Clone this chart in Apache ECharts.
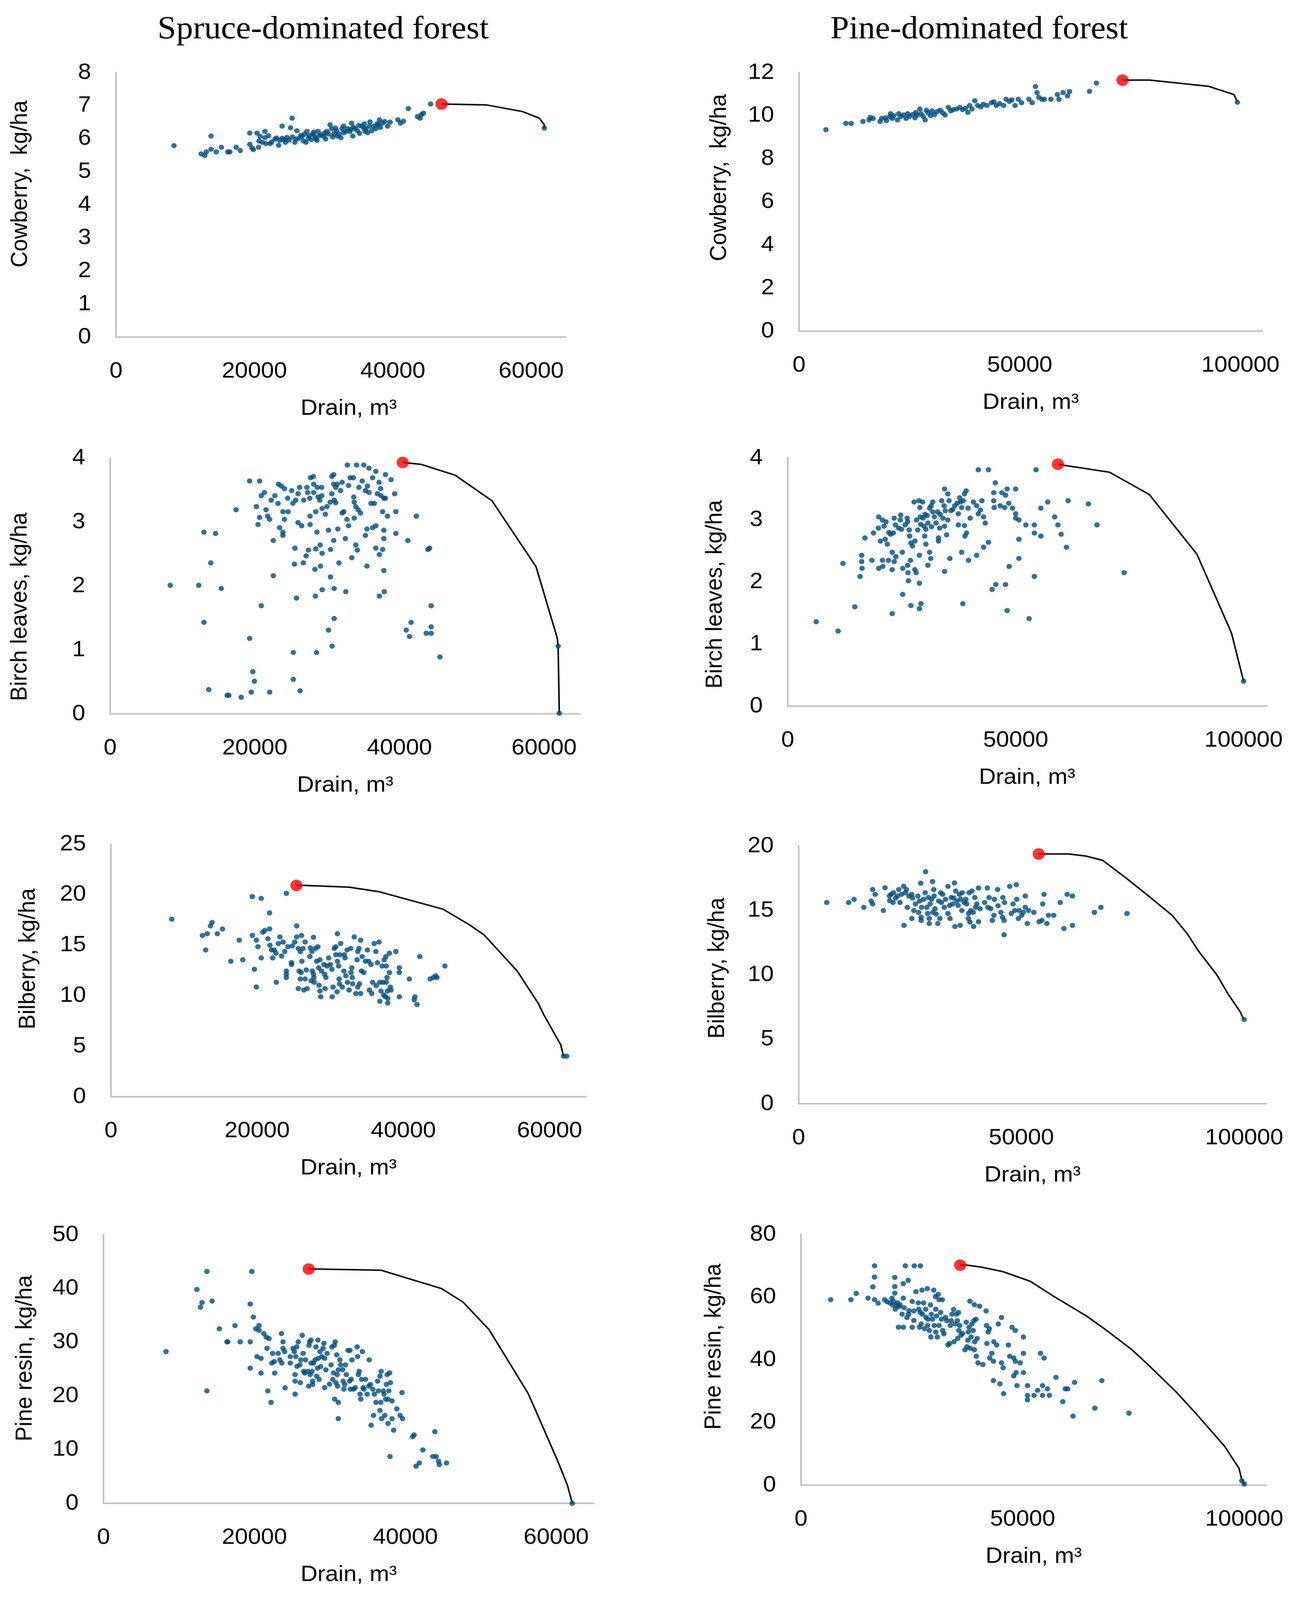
<!DOCTYPE html>
<html>
<head>
<meta charset="utf-8">
<title>Drain frontiers</title>
<script src="https://cdn.jsdelivr.net/npm/echarts@6/dist/echarts.min.js"></script>
<style>
    html, body { margin: 0; padding: 0; background: #fff; overflow: hidden; }
    #main { width: 3327px; height: 4301px; transform-origin: 0 0; }
</style>
</head>
<body>
<div id="main"></div>
<script type="text/javascript">
// values: [drain m3, kg/ha]
var spruceCowberry = [[8370,5.79],[12290,5.54],[12810,5.49],[13040,5.60],[13730,6.08],[13730,5.68],[14480,5.60],[15230,5.74],[16160,5.60],[16450,5.60],[17370,5.74],[17950,5.64],[19330,6.17],[19330,5.83],[19620,5.72],[19850,5.67],[20370,6.17],[20600,5.74],[20830,6.07],[20660,5.93],[21120,5.89],[21520,6.22],[21520,6.03],[21640,5.85],[22040,6.09],[22270,5.85],[22500,5.90],[22970,5.99],[23490,5.80],[23660,5.95],[24000,6.38],[24000,6.01],[24470,5.89],[24700,6.04],[25220,6.33],[25450,6.62],[25500,6.05],[25850,5.89],[26140,6.24],[26430,6.01],[26890,6.07],[27240,6.14],[27470,5.89],[27580,6.22],[27930,6.09],[28220,5.97],[28390,6.14],[28740,6.07],[29030,5.95],[29200,6.22],[29430,6.09],[30010,6.07],[30290,5.99],[30470,6.22],[30700,6.14],[30930,6.42],[31160,6.30],[31510,6.15],[31860,6.24],[32200,6.14],[32490,6.03],[32660,6.30],[32890,6.38],[33240,6.22],[33470,6.30],[33810,6.22],[34040,6.47],[34220,6.08],[34510,6.30],[35080,6.40],[35200,6.16],[35550,6.38],[35890,6.45],[36120,6.30],[36350,6.18],[36700,6.51],[36930,6.24],[37220,6.38],[37510,6.30],[37740,6.45],[38080,6.57],[38200,6.34],[38830,6.52],[39240,6.38],[40740,6.57],[41090,6.47],[41550,6.53],[42240,6.91],[43570,6.67],[43970,6.62],[44150,6.73],[44430,6.77],[45470,7.05],[23200,6.02],[24300,5.97],[25000,5.96],[26000,5.99],[26700,6.10],[27800,6.02],[28900,6.00],[29700,6.12],[30200,6.18],[31300,6.05],[32000,6.08],[32900,6.18],[33900,6.28],[34900,6.24],[35800,6.32],[36600,6.38],[37900,6.42],[38500,6.47],[39600,6.50],[27100,5.93],[28600,6.20],[31700,6.32],[34300,6.35],[36000,6.22],[61900,6.32]];
var spruceCowberryFront = [[47030,7.05],[53550,7.02],[58740,6.82],[61170,6.62],[61860,6.43],[61900,6.32]];
var spruceCowberryOpt = [[47030,7.05]];

var pineCowberry = [[6080,9.35],[10600,9.64],[11800,9.64],[14470,9.73],[15850,9.80],[16130,9.92],[16770,9.87],[18340,9.73],[18710,9.87],[19540,9.90],[19820,9.77],[20550,9.96],[20740,10.09],[21110,9.87],[21470,10.00],[22300,9.80],[22580,10.09],[23040,9.96],[23690,10.03],[24240,9.87],[24610,10.09],[24980,9.96],[25710,10.05],[26270,9.90],[26450,10.15],[26820,10.03],[27370,10.31],[27650,10.09],[28110,9.96],[28570,9.80],[28850,10.25],[29220,10.13],[29770,10.00],[30140,10.22],[30690,10.05],[31240,10.18],[31980,10.25],[32530,10.13],[33090,10.03],[33820,10.38],[34380,10.22],[34930,10.28],[35670,10.31],[36410,10.38],[37050,10.28],[37700,10.34],[38250,10.15],[38620,10.47],[39170,10.31],[39820,10.69],[40460,10.47],[41200,10.41],[41750,10.53],[42580,10.47],[43590,10.60],[44150,10.64],[44700,10.47],[45440,10.56],[46360,10.47],[46910,10.76],[47650,10.66],[48200,10.73],[48940,10.47],[49680,10.76],[50410,10.60],[52070,10.76],[52810,10.60],[53550,11.35],[53920,11.07],[54290,10.85],[55020,10.76],[55580,10.76],[57050,10.76],[58530,10.98],[58890,10.76],[59820,11.07],[60830,10.92],[61290,11.12],[65810,11.13],[67370,11.51],[99300,10.62]];
var pineCowberryFront = [[73270,11.65],[79450,11.65],[92810,11.36],[98530,10.98],[99300,10.65]];
var pineCowberryOpt = [[73270,11.65]];

var spruceBirch = [[8310,2.01],[12240,2.01],[12960,2.84],[12960,1.43],[13630,0.38],[13910,2.36],[14570,2.82],[15350,1.96],[16180,0.29],[16400,0.29],[17400,3.19],[18120,0.26],[19280,3.64],[19280,1.18],[19500,0.34],[19720,0.66],[19940,0.51],[20220,3.24],[20440,2.96],[20660,3.64],[20660,3.07],[20890,3.41],[20890,1.69],[21330,3.46],[21550,3.19],[21770,3.09],[22050,3.04],[22050,0.34],[22270,3.34],[22550,2.71],[22550,2.16],[22770,3.41],[23210,3.29],[23270,3.59],[23430,2.91],[23660,3.56],[23880,3.16],[23880,2.79],[23880,2.84],[24100,3.52],[24100,3.04],[24540,3.37],[24600,3.16],[25100,3.49],[25260,3.29],[25320,0.96],[25320,0.54],[25480,2.34],[25540,2.59],[25650,3.34],[25760,1.81],[25980,3.44],[25980,2.99],[26200,3.54],[26260,0.36],[26480,2.94],[26700,2.36],[26760,3.34],[27090,2.47],[27200,3.54],[27310,3.46],[27420,2.56],[27590,3.37],[27640,3.09],[27640,2.96],[27700,3.69],[28090,3.71],[28140,3.46],[28140,3.59],[28310,2.26],[28420,2.58],[28370,1.84],[28420,3.16],[28530,0.96],[28590,2.84],[28640,3.54],[28750,3.39],[28980,3.34],[29030,2.64],[29090,2.31],[29250,3.54],[29250,3.41],[29310,2.51],[29310,1.94],[29310,3.21],[29750,3.12],[29970,3.24],[30190,2.87],[30190,1.31],[30420,3.31],[30470,2.57],[30470,2.14],[30640,3.71],[30640,3.44],[30690,1.06],[30910,3.74],[30910,3.59],[30910,2.71],[30970,1.96],[30970,1.49],[30970,3.34],[31190,3.30],[31190,3.54],[31410,3.59],[31470,2.89],[31630,2.36],[31860,3.49],[32080,3.62],[32080,3.14],[32300,3.16],[32520,2.74],[32580,1.91],[32740,3.04],[32800,3.89],[32960,2.94],[32960,3.57],[33190,3.69],[33410,2.44],[33630,3.69],[33680,3.39],[33740,3.06],[33740,3.31],[33960,2.64],[33960,3.24],[34070,3.89],[34180,2.56],[34290,3.19],[34400,3.54],[34630,3.14],[34850,3.64],[35070,3.89],[35290,2.79],[35290,3.49],[35510,2.31],[35510,2.89],[35570,3.56],[35790,3.84],[35790,3.46],[36070,3.29],[36290,2.91],[36290,3.69],[36510,3.29],[36730,3.79],[36730,2.59],[36730,2.94],[36950,3.44],[37180,3.62],[37230,1.84],[37230,2.49],[37400,3.52],[37450,3.41],[37670,3.16],[37670,2.57],[37840,3.37],[37840,2.87],[37840,2.74],[37840,2.24],[37890,1.91],[38060,3.74],[38060,3.37],[38340,3.09],[38840,3.66],[39340,3.44],[39500,3.16],[39500,2.82],[40940,1.31],[41160,2.71],[41390,1.21],[41610,1.43],[42330,3.09],[43710,1.26],[43930,2.57],[44160,2.59],[44380,1.69],[44380,1.36],[44380,1.26],[45600,0.89],[61940,1.06],[62100,0.01]];
var spruceBirchFront = [[40440,3.93],[42990,3.90],[47700,3.73],[52800,3.33],[58890,2.30],[61830,1.18],[61940,1.06],[62100,0.01]];
var spruceBirchOpt = [[40440,3.93]];

var pineBirch = [[6240,1.36],[11050,1.21],[12120,2.30],[14710,1.60],[15860,2.09],[16220,2.43],[16220,2.33],[16310,2.22],[16930,2.71],[18450,2.35],[18810,2.79],[19880,2.87],[19960,3.05],[19960,2.22],[20320,2.66],[20770,3.00],[20770,2.35],[20860,2.25],[21120,2.90],[21390,2.69],[21570,2.97],[21840,2.61],[22100,2.35],[22190,2.80],[22550,2.77],[22910,2.48],[22910,2.20],[22910,1.49],[23170,2.79],[23350,3.03],[23350,2.33],[23620,2.92],[23710,2.41],[24330,2.87],[24690,3.00],[24780,3.08],[24960,2.85],[25130,2.48],[25220,2.22],[25220,1.80],[25760,2.92],[26200,3.03],[26290,2.97],[26290,2.27],[26380,2.15],[26470,2.02],[26650,2.84],[26740,2.74],[26920,2.35],[27010,2.63],[27010,1.62],[27360,2.58],[27720,3.29],[27900,2.66],[27900,2.20],[28160,2.15],[28250,3.00],[28520,2.84],[28790,3.31],[28880,2.43],[28880,1.98],[28880,1.57],[28970,3.20],[29060,3.05],[29140,2.93],[29230,1.65],[29590,3.29],[29680,3.03],[29860,2.90],[30040,2.74],[30120,3.09],[30300,2.85],[30300,2.61],[30570,3.07],[30750,2.27],[30750,2.95],[31110,2.48],[31110,3.19],[31370,2.38],[31460,3.23],[31550,2.89],[31820,3.13],[31820,3.29],[32180,3.05],[32530,2.95],[32890,3.13],[33070,2.71],[33070,2.66],[33330,2.87],[33420,3.09],[33780,3.31],[34050,3.03],[34310,3.23],[34400,2.90],[34400,3.50],[34400,2.17],[34580,3.15],[34850,2.76],[35120,3.42],[35120,3.00],[35380,3.31],[35560,2.38],[35830,3.15],[36190,3.17],[36630,3.23],[37170,3.27],[37430,3.10],[37430,2.92],[37700,3.36],[37880,3.29],[38150,2.48],[38150,3.20],[38410,1.65],[38500,3.31],[38770,3.42],[38770,2.91],[38860,2.74],[39130,3.47],[39220,2.79],[39570,3.19],[39660,2.35],[40020,3.03],[40730,3.29],[41440,3.23],[41440,2.43],[41800,3.10],[41800,3.81],[42250,3.16],[42600,3.31],[42960,3.05],[42960,2.56],[43320,2.95],[44030,2.64],[44030,3.81],[44830,1.88],[45190,3.44],[45190,3.31],[45280,3.20],[45540,3.60],[45630,1.96],[46610,3.23],[46970,3.44],[47590,3.20],[47770,3.40],[47770,1.96],[48130,1.54],[48130,3.50],[48480,3.27],[48570,2.25],[49290,3.19],[50000,3.10],[50000,3.03],[50000,3.50],[50710,3.00],[50710,2.69],[50710,2.38],[52230,2.92],[52940,1.41],[54100,2.92],[54100,2.79],[54100,2.09],[54460,3.81],[55530,3.19],[55530,2.74],[57040,3.29],[58560,3.05],[59270,2.92],[59980,2.77],[61140,2.56],[61500,3.31],[65950,3.26],[67830,2.92],[73800,2.15],[100000,0.40]];
var pineBirchFront = [[59270,3.90],[60780,3.88],[70590,3.77],[79320,3.41],[89750,2.45],[97330,1.18],[100000,0.40]];
var pineBirchOpt = [[59270,3.90]];

var spruceBilberry = [[8310,17.57],[12510,15.96],[12950,14.52],[13170,16.13],[13610,16.90],[13830,17.24],[14540,16.13],[15250,16.60],[16390,13.40],[17540,15.49],[18030,13.55],[19340,19.80],[19340,15.96],[19620,12.61],[19890,15.49],[19890,10.85],[20110,14.84],[20550,19.62],[20550,13.73],[20770,16.28],[21040,16.45],[21480,15.63],[21690,18.19],[21690,16.60],[21750,14.99],[21970,14.52],[22130,13.73],[22350,14.52],[22570,14.20],[22620,11.32],[22900,15.16],[23110,15.81],[23330,13.92],[23550,15.31],[23770,14.37],[23990,20.12],[23990,12.44],[23990,12.12],[23990,11.79],[24210,14.84],[24700,13.08],[24700,13.26],[24810,14.92],[25140,15.31],[25410,16.90],[25410,15.81],[25630,14.67],[25630,10.70],[25740,12.44],[25900,14.35],[25900,11.65],[26010,12.29],[26070,15.96],[26120,13.40],[26280,14.67],[26390,10.56],[26560,15.31],[26560,11.65],[26720,12.54],[26830,10.70],[27210,13.87],[27270,14.74],[27380,11.47],[27490,14.37],[27540,12.44],[27700,15.78],[27700,12.12],[27760,11.79],[27810,11.32],[27980,14.67],[28140,13.40],[28310,14.84],[28420,12.76],[28470,11.03],[28580,13.55],[28580,10.46],[28690,9.89],[28800,12.44],[29130,13.08],[29230,12.12],[29290,10.70],[29400,11.79],[29560,12.93],[29780,13.73],[30000,13.08],[30220,12.61],[30270,9.89],[30380,10.85],[30550,14.67],[30760,14.84],[30760,14.05],[30930,10.38],[30980,13.40],[30980,16.13],[31150,12.93],[31200,11.65],[31260,11.17],[31310,14.05],[31420,15.16],[31640,10.85],[31860,12.44],[31910,14.05],[32020,13.73],[32130,11.97],[32300,14.52],[32350,11.32],[32570,10.56],[32790,14.67],[32840,12.29],[32950,12.76],[33010,11.79],[33060,11.17],[33280,15.81],[33500,10.21],[33660,13.55],[33770,10.85],[33770,14.37],[33930,14.67],[33990,11.17],[34150,15.49],[34150,10.21],[34260,12.44],[34370,13.87],[34590,12.29],[34810,13.40],[35080,14.52],[35250,13.40],[35360,10.56],[35570,13.08],[35680,10.21],[35790,11.32],[36010,15.16],[36230,14.37],[36280,11.00],[36450,13.26],[36670,15.31],[36780,11.32],[36780,9.44],[36940,10.46],[37100,12.93],[37210,11.32],[37320,10.06],[37380,13.55],[37540,9.89],[37600,13.87],[37650,12.93],[37650,11.32],[37760,11.79],[37810,10.46],[37870,9.27],[37870,9.74],[38090,14.20],[38090,12.29],[38200,10.85],[38310,10.56],[38960,14.37],[39450,12.76],[39450,12.29],[39450,9.89],[40820,11.65],[41480,9.59],[41580,9.89],[41860,9.12],[42240,13.87],[43660,11.65],[44100,11.79],[44430,11.97],[44590,11.79],[45680,12.93],[61910,4.01],[62350,4.01]];
var spruceBilberryFront = [[25360,20.91],[26390,20.91],[32570,20.74],[36670,20.29],[40050,19.62],[45410,18.56],[48910,17.07],[51090,15.98],[53060,14.42],[55570,12.44],[58470,9.22],[59180,8.15],[61530,5.13],[61910,4.01]];
var spruceBilberryOpt = [[25360,20.91]];

var pineBilberry = [[6300,15.61],[11230,15.61],[12420,15.86],[14610,15.24],[16260,15.73],[16620,16.62],[16620,15.50],[17170,16.25],[19010,14.99],[19380,16.76],[20370,16.12],[20460,15.75],[20730,16.25],[21190,15.61],[21280,16.37],[21740,15.96],[22190,16.12],[22470,16.62],[22740,15.61],[23110,16.25],[23560,16.87],[23650,13.84],[23930,16.37],[24200,16.62],[24380,15.24],[24750,16.12],[25390,16.25],[25390,14.37],[25570,15.96],[25840,14.99],[26210,15.50],[26760,16.12],[26940,14.85],[27120,15.73],[27400,17.11],[27490,14.47],[27490,14.23],[27580,15.24],[28040,15.86],[28400,16.37],[28490,18.00],[28770,15.24],[28950,14.76],[29130,16.00],[29310,14.37],[29310,13.98],[29500,15.50],[29860,15.86],[30050,17.24],[30140,14.85],[30320,16.62],[30410,16.12],[30590,15.13],[30870,14.72],[31230,13.98],[31420,15.73],[31690,14.37],[31870,16.37],[32050,15.61],[32330,16.25],[32690,15.24],[32970,15.86],[33520,16.87],[33520,14.76],[33880,15.38],[33970,14.37],[34250,16.00],[34610,15.50],[34790,15.96],[34980,17.13],[35070,13.75],[35250,16.50],[35520,15.73],[35800,15.38],[36070,16.25],[36260,13.84],[36350,15.86],[36620,14.99],[36710,16.37],[37170,15.61],[37530,15.86],[37720,15.50],[38080,14.37],[38170,14.76],[38260,16.37],[38450,14.10],[38630,14.99],[38900,16.50],[39180,14.85],[39270,13.75],[39540,16.00],[39730,15.24],[40000,15.50],[40370,16.74],[40370,14.12],[40730,15.13],[41740,15.61],[42370,16.74],[42470,15.24],[42740,16.00],[43110,15.13],[43470,14.23],[43840,14.62],[43930,15.86],[44660,16.62],[44750,15.36],[45390,14.85],[45750,14.47],[45840,16.00],[46120,14.23],[46120,13.11],[46210,15.61],[47370,16.87],[47750,14.76],[48130,15.50],[48490,14.99],[48860,16.99],[48950,15.86],[49320,14.37],[49500,14.99],[50050,14.62],[50410,14.85],[50870,16.12],[50870,15.24],[51320,13.98],[51600,14.99],[52790,14.85],[53970,14.12],[54610,14.23],[54790,15.50],[55070,16.25],[55710,13.98],[56070,14.62],[57260,14.62],[58720,15.61],[59540,13.59],[60270,16.25],[61460,16.12],[61460,13.84],[66390,14.85],[67850,15.24],[73700,14.76],[100000,6.54]];
var pineBilberryFront = [[53880,19.38],[55710,19.38],[60550,19.38],[64380,19.22],[68220,18.89],[73060,17.63],[78540,16.12],[83840,14.62],[87210,13.20],[89770,11.84],[93880,10.00],[96350,8.54],[99090,7.15],[99820,6.60],[100000,6.54]];
var pineBilberryOpt = [[53880,19.38]];

var spruceResin = [[8280,28.24],[12370,39.80],[12850,36.49],[13060,37.37],[13700,43.15],[13700,20.92],[14390,37.65],[15350,32.48],[16360,30.06],[16460,30.06],[17420,33.08],[18110,30.06],[19440,37.09],[19440,30.06],[19440,25.16],[19650,43.15],[19860,34.67],[20180,32.48],[20610,33.08],[20610,32.20],[20340,27.31],[20870,26.98],[20870,24.23],[21240,31.59],[21560,30.94],[21670,28.84],[21770,20.92],[21930,30.66],[22200,18.78],[22300,26.10],[22410,27.91],[22620,26.38],[22680,24.23],[23150,27.91],[23370,26.70],[23580,31.59],[23630,26.10],[23790,30.06],[23790,28.84],[24000,28.24],[24060,21.48],[24750,27.31],[24750,26.10],[25120,28.84],[25280,28.24],[25390,23.95],[25390,22.74],[25390,20.32],[25490,27.31],[25600,29.12],[25650,25.49],[25810,30.06],[26020,25.77],[26080,22.46],[26130,26.70],[26340,31.27],[26450,27.91],[26550,24.56],[26660,24.23],[26770,26.70],[27080,24.56],[27190,21.81],[27240,29.40],[27300,30.06],[27400,23.95],[27510,30.38],[27510,26.10],[27620,24.56],[27720,22.74],[27720,22.13],[27830,26.10],[28040,26.70],[28150,29.12],[28250,23.67],[28360,25.16],[28410,30.38],[28470,26.98],[28570,23.07],[28680,28.24],[28780,25.44],[28940,27.31],[29100,28.84],[29210,29.78],[29310,26.98],[29310,21.53],[29470,24.84],[29630,27.91],[29950,22.18],[30160,25.77],[30270,29.12],[30380,23.07],[30480,24.28],[30590,29.40],[30640,19.38],[30700,30.06],[30800,22.46],[30910,27.63],[30960,23.95],[31010,21.81],[31120,24.84],[31120,18.78],[31120,15.75],[31330,26.70],[31440,25.77],[31700,24.88],[31760,22.74],[31860,21.25],[31970,22.13],[32080,25.77],[32180,23.95],[32400,28.47],[32610,22.74],[32660,28.47],[32710,21.25],[32820,23.07],[32930,26.70],[33140,21.25],[33350,21.53],[33620,29.12],[33670,27.31],[33780,23.95],[33880,24.56],[33990,20.32],[34090,19.38],[34200,23.07],[34310,28.24],[34410,21.53],[34520,21.25],[34730,23.07],[34940,20.32],[35160,21.81],[35210,26.70],[35370,22.13],[35470,14.54],[35690,21.25],[35790,16.36],[35900,20.32],[36110,18.78],[36330,22.74],[36430,20.92],[36640,17.29],[36640,23.67],[36750,18.78],[36800,24.56],[36860,15.75],[37070,20.92],[37170,20.32],[37280,16.36],[37390,19.38],[37490,22.13],[37600,23.95],[37710,14.86],[37710,19.38],[37810,20.92],[37920,24.28],[37970,8.71],[38020,22.46],[38240,15.75],[38240,19.06],[38450,13.61],[38870,17.57],[39300,16.36],[39560,20.60],[39620,15.75],[40970,12.40],[41160,12.72],[41420,6.90],[41850,7.50],[42330,9.93],[43650,8.71],[43920,13.33],[44080,8.71],[44400,7.83],[44500,7.22],[45460,7.50],[62130,0]];
var spruceResinFront = [[27190,43.62],[28150,43.62],[36800,43.38],[44770,39.98],[47640,37.47],[51090,32.34],[52680,28.70],[55120,23.11],[56290,20.41],[57780,15.66],[60270,7.64],[61500,3.31],[62030,0.51],[62130,0]];
var spruceResinOpt = [[27190,43.62]];

var pineResin = [[6690,59.15],[11260,59.15],[12450,61.15],[15110,59.63],[16210,63.23],[16580,69.94],[16580,66.35],[16580,59.15],[17400,58.03],[18860,59.15],[19410,58.51],[20050,58.11],[20510,59.63],[20700,57.39],[20880,58.59],[21150,66.27],[21150,63.31],[21150,61.23],[21250,56.12],[21520,57.39],[21790,58.11],[21980,50.36],[22070,56.91],[22340,57.47],[22800,54.52],[23080,64.27],[23080,59.63],[23080,50.36],[23260,56.59],[23530,69.94],[23900,53.48],[24180,65.31],[24270,54.52],[24360,55.64],[25090,58.59],[25090,50.36],[25460,55.56],[25460,52.52],[25550,69.94],[25920,61.71],[26470,58.11],[26560,56.12],[26740,50.36],[26920,69.94],[26920,55.08],[27110,51.40],[27290,62.19],[27380,54.52],[27660,58.11],[27840,49.88],[28110,56.12],[28210,53.48],[28480,62.67],[28570,50.92],[28660,52.92],[28940,49.32],[29210,57.47],[29300,47.24],[29400,54.52],[29670,52.92],[29950,62.19],[30040,50.92],[30310,60.11],[30400,56.12],[30400,48.84],[30590,53.96],[30770,47.24],[30950,60.83],[31140,59.15],[31140,50.92],[31500,55.08],[31680,52.92],[31870,59.15],[31960,49.32],[32230,48.28],[32600,53.48],[32880,52.44],[33150,44.68],[33520,45.16],[33700,50.92],[33880,52.44],[34070,54.52],[34430,56.04],[34520,45.72],[34800,51.40],[35070,54.52],[35260,52.44],[35350,46.76],[35530,55.08],[35620,49.32],[35810,50.92],[36080,47.80],[36450,48.36],[37000,43.17],[37270,51.96],[37450,44.12],[37640,46.20],[37730,48.84],[37910,50.36],[38100,58.67],[38190,43.65],[38370,47.24],[38550,51.40],[38830,49.32],[39010,52.44],[39100,57.55],[39100,43.17],[39190,45.72],[39470,52.92],[39560,41.09],[39740,46.76],[39930,39.01],[40290,57.07],[41030,38.45],[41760,55.56],[41850,50.92],[41940,45.16],[42220,48.84],[42490,49.88],[42580,40.53],[43040,42.05],[43410,39.49],[43410,33.33],[43500,45.72],[44140,44.68],[44510,51.40],[44870,32.29],[45240,53.48],[45240,39.01],[45600,37.41],[45700,29.18],[46800,44.68],[47070,41.09],[47620,50.36],[47990,40.53],[47990,34.85],[48350,49.32],[48350,39.49],[48530,35.89],[48720,31.73],[49450,39.01],[50180,47.24],[50180,42.05],[50180,35.89],[51100,31.73],[51100,28.62],[51100,27.18],[52560,28.62],[53390,30.22],[54030,42.05],[54490,31.73],[54490,28.62],[54850,40.53],[55590,30.70],[56040,28.62],[57510,34.37],[59070,26.62],[59620,30.70],[60160,30.70],[61360,21.98],[61720,32.77],[66300,24.54],[67860,33.33],[73990,22.94],[99450,1.36],[100000,0.32]];
var pineResinFront = [[35900,70.18],[37450,70.18],[40660,69.54],[45510,68.11],[51650,65.07],[57140,60.11],[64470,53.88],[68590,49.72],[74540,43.33],[78210,38.53],[84620,29.74],[89190,22.70],[95600,12.31],[98810,5.36],[99450,1.76],[100000,0.32]];
var pineResinOpt = [[35900,70.18]];

var titles = ['Spruce-dominated forest', 'Pine-dominated forest'];
var xName = 'Drain, m\u00b3';

// layout of the 8 panels (pixels)
var panels = [
    {data: spruceCowberry, front: spruceCowberryFront, opt: spruceCowberryOpt, yName: 'Cowberry,  kg/ha', ymax: 8, yint: 1, xmax: 65000, xint: 20000, box: [297, 195, 1151, 711], yGap: 215, shift: 56, xShift: 20},
    {data: pineCowberry, front: pineCowberryFront, opt: pineCowberryOpt, yName: 'Cowberry,  kg/ha', ymax: 12, yint: 2, xmax: 105000, xint: 50000, box: [2045, 195, 1186, 695], yGap: 174, shift: 65, xShift: 0},
    {data: spruceBirch, front: spruceBirchFront, opt: spruceBirchOpt, yName: 'Birch leaves, kg/ha', ymax: 4, yint: 1, xmax: 65000, xint: 20000, box: [282, 1231, 1203, 688], yGap: 201, shift: -56, xShift: 0},
    {data: pineBirch, front: pineBirchFront, opt: pineBirchOpt, yName: 'Birch leaves, kg/ha', ymax: 4, yint: 1, xmax: 105000, xint: 50000, box: [2016, 1231, 1225, 667], yGap: 156, shift: -33, xShift: 0},
    {data: spruceBilberry, front: spruceBilberryFront, opt: spruceBilberryOpt, yName: 'Bilberry, kg/ha', ymax: 25, yint: 5, xmax: 65000, xint: 20000, box: [284, 2269, 1216, 679], yGap: 182, shift: 31, xShift: 0},
    {data: pineBilberry, front: pineBilberryFront, opt: pineBilberryOpt, yName: 'Bilberry, kg/ha', ymax: 20, yint: 5, xmax: 105000, xint: 50000, box: [2044, 2274, 1197, 693], yGap: 178, shift: 18, xShift: 0},
    {data: spruceResin, front: spruceResinFront, opt: spruceResinOpt, yName: 'Pine resin, kg/ha', ymax: 50, yint: 10, xmax: 65000, xint: 20000, box: [265, 3319, 1255, 722], yGap: 171, shift: 29, xShift: 0},
    {data: pineResin, front: pineResinFront, opt: pineResinOpt, yName: 'Pine resin, kg/ha', ymax: 80, yint: 20, xmax: 105000, xint: 50000, box: [2050, 3318, 1191, 674], yGap: 193, shift: 35, xShift: 0}
];

var sans = "'Liberation Sans', Arial, sans-serif";
var grids = [], xAxes = [], yAxes = [], series = [];

panels.forEach(function (p, i) {
    grids.push({left: p.box[0], top: p.box[1], width: p.box[2], height: p.box[3], containLabel: false});
    var xint = p.xint;
    xAxes.push({
        gridIndex: i, type: 'value', min: 0, max: p.xmax, interval: xint,
        name: xName, nameLocation: 'middle', nameGap: 162,
        nameTextStyle: {fontFamily: sans, fontSize: 60, color: '#000', padding: [0, 0, 0, 2 * p.xShift]},
        axisLine: {show: true, lineStyle: {color: '#bfbfbf', width: 4}},
        axisTick: {show: false}, splitLine: {show: false},
        axisLabel: {
            margin: 62, fontFamily: sans, fontSize: 60, color: '#000',
            formatter: function (v) { return v % xint === 0 ? String(v) : ''; }
        }
    });
    // move the rotated name along the axis with asymmetric padding
    var pad = p.shift > 0 ? [0, 0, 0, 2 * p.shift] : [0, -2 * p.shift, 0, 0];
    yAxes.push({
        gridIndex: i, type: 'value', min: 0, max: p.ymax, interval: p.yint,
        name: p.yName, nameLocation: 'middle', nameGap: p.yGap,
        nameTextStyle: {fontFamily: sans, fontSize: 60, color: '#000', padding: pad},
        axisLine: {show: true, lineStyle: {color: '#bfbfbf', width: 4}},
        axisTick: {show: false}, splitLine: {show: false},
        axisLabel: {margin: 64, fontFamily: sans, fontSize: 60, color: '#000'}
    });
    series.push({
        type: 'line', xAxisIndex: i, yAxisIndex: i, data: p.front,
        showSymbol: false, symbol: 'none', lineStyle: {color: '#000', width: 4},
        silent: true, z: 2, clip: false
    });
    series.push({
        type: 'scatter', xAxisIndex: i, yAxisIndex: i, data: p.data,
        symbolSize: 14, itemStyle: {color: '#004c7c'}, z: 3, clip: false
    });
    series.push({
        type: 'scatter', xAxisIndex: i, yAxisIndex: i, data: p.opt,
        symbolSize: 31, itemStyle: {color: '#ff0000'}, z: 4, clip: false
    });
});

// the window can be shorter than the figure: squeeze it vertically to fit
var el = document.getElementById('main');
var k = Math.min(1, (window.innerHeight || 4301) / 4301);
el.style.transform = 'scaleY(' + k + ')';

var chart = echarts.init(el, null, {renderer: 'canvas'});
chart.setOption({
    backgroundColor: '#ffffff',
    animation: false,
    title: [
        {text: titles[0], left: 822, top: 32, textAlign: 'center',
         textStyle: {fontFamily: "'Liberation Serif', 'Times New Roman', serif", fontSize: 86, fontWeight: 'normal', color: '#000'}},
        {text: titles[1], left: 2501, top: 32, textAlign: 'center',
         textStyle: {fontFamily: "'Liberation Serif', 'Times New Roman', serif", fontSize: 86, fontWeight: 'normal', color: '#000'}}
    ],
    grid: grids,
    xAxis: xAxes,
    yAxis: yAxes,
    series: series
});
</script>
</body>
</html>
